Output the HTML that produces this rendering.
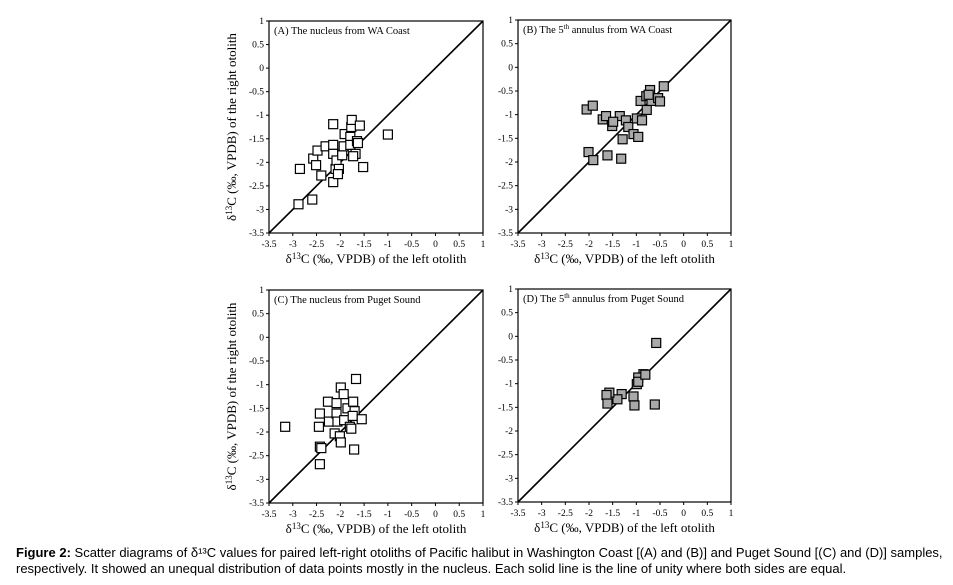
<!DOCTYPE html>
<html><head><meta charset="utf-8"><style>
body{margin:0;background:#fff;width:953px;height:585px;overflow:hidden;position:relative}
svg{position:absolute;left:0;top:0}
#cap{position:absolute;left:16px;top:545px;width:935px;font:13px "Liberation Sans",sans-serif;line-height:16px;color:#000}
</style></head><body>
<svg id="chart" width="953" height="540" font-family="Liberation Serif, serif"></svg>
<div id="cap"><b>Figure 2:</b> Scatter diagrams of δ¹³C values for paired left-right otoliths of Pacific halibut in Washington Coast [(A) and (B)] and Puget Sound [(C) and (D)] samples, respectively. It showed an unequal distribution of data points mostly in the nucleus. Each solid line is the line of unity where both sides are equal.</div>
<script>
const ticks=[-3.5,-3,-2.5,-2,-1.5,-1,-0.5,0,0.5,1];
const tickLabels=["-3.5","-3","-2.5","-2","-1.5","-1","-0.5","0","0.5","1"];
const aX=[-2.85,-2.88,-2.59,-2.57,-2.51,-2.48,-2.4,-2.31,-2.15,-2.15,-2.15,-2.15,-2.1,-2.08,-2.03,-2.05,-1.96,-1.93,-1.91,-1.79,-1.79,-1.77,-1.76,-1.68,-1.65,-1.59,-1.63,-1.52,-1.0,-1.73];
const aY=[-2.14,-2.89,-2.79,-1.92,-2.06,-1.75,-2.28,-1.66,-1.19,-1.63,-1.82,-2.42,-2.14,-1.96,-2.14,-2.25,-1.85,-1.66,-1.4,-1.46,-1.63,-1.25,-1.1,-1.82,-1.55,-1.22,-1.59,-2.1,-1.41,-1.87];
const bX=[-2.05,-1.92,-1.71,-1.64,-1.51,-1.35,-1.49,-1.29,-1.22,-1.17,-1.06,-0.99,-0.96,-0.88,-0.91,-0.78,-0.79,-0.71,-0.68,-0.54,-0.5,-0.42,-2.01,-1.91,-1.61,-1.32,-0.74];
const bY=[-0.89,-0.81,-1.1,-1.03,-1.24,-1.03,-1.15,-1.52,-1.12,-1.26,-1.41,-1.08,-1.47,-1.12,-0.71,-0.9,-0.61,-0.48,-0.71,-0.65,-0.72,-0.4,-1.79,-1.96,-1.86,-1.93,-0.58];
const cX=[-3.16,-2.43,-2.45,-2.43,-2.4,-2.43,-2.26,-2.24,-2.12,-2.08,-2.06,-1.99,-2.01,-1.99,-1.93,-1.92,-1.85,-1.8,-1.77,-1.73,-1.7,-1.74,-1.67,-1.71,-1.55,-2.08];
const cY=[-1.89,-1.61,-1.89,-2.31,-2.34,-2.68,-1.36,-1.78,-2.03,-1.61,-1.78,-1.06,-2.09,-2.22,-1.2,-1.75,-1.5,-1.89,-1.93,-1.36,-1.56,-1.66,-0.88,-2.37,-1.73,-1.39];
const dX=[-0.58,-0.61,-0.85,-0.96,-0.99,-0.96,-1.06,-1.04,-1.31,-1.4,-1.57,-1.63,-1.61,-0.81];
const dY=[-0.14,-1.44,-0.8,-0.87,-1.01,-0.96,-1.27,-1.46,-1.22,-1.33,-1.19,-1.24,-1.42,-0.81];
const NS="http://www.w3.org/2000/svg";
const svg=document.getElementById('chart');
function mk(t,a,p){const e=document.createElementNS(NS,t);for(const k in a)e.setAttribute(k,a[k]);(p||svg).appendChild(e);return e;}
const panels=[
 {id:'a',x0:269,x1:483,y0:21,y1:233,xs:aX,ys:aY,fill:'#fff',title:'(A) The nucleus from WA Coast',sup:false,ytitle:true},
 {id:'b',x0:518,x1:731,y0:20,y1:233,xs:bX,ys:bY,fill:'#a9a9a9',title:'(B) The 5',sup:true,rest:' annulus from WA Coast',ytitle:false},
 {id:'c',x0:269,x1:483,y0:290,y1:503,xs:cX,ys:cY,fill:'#fff',title:'(C) The nucleus from Puget Sound',sup:false,ytitle:true},
 {id:'d',x0:518,x1:731,y0:289,y1:502,xs:dX,ys:dY,fill:'#a9a9a9',title:'(D) The 5',sup:true,rest:' annulus from Puget Sound',ytitle:false}];
panels.forEach(p=>{
 const g=mk('g',{});
 
 
 const sx=v=>p.x0+(v+3.5)/4.5*(p.x1-p.x0);
 const sy=v=>p.y1-(v+3.5)/4.5*(p.y1-p.y0);
 const fr=mk('rect',{x:p.x0,y:p.y0,width:p.x1-p.x0,height:p.y1-p.y0,fill:'none',stroke:'#000','stroke-width':1.2},g);
 
 
 ticks.forEach((t,i)=>{
  mk('line',{x1:sx(t),x2:sx(t),y1:p.y1,y2:p.y1+3,stroke:'#000'},g);
  mk('line',{x1:p.x0-3,x2:p.x0,y1:sy(t),y2:sy(t),stroke:'#000'},g);
  const xl=mk('text',{x:sx(t),y:p.y1+14,'font-size':9.5,'text-anchor':'middle'},g);xl.textContent=tickLabels[i];
  
  
  const yl=mk('text',{x:p.x0-5,y:sy(t)+3,'font-size':9.5,'text-anchor':'end'},g);yl.textContent=tickLabels[i];
  
  
 });
 const ul=mk('line',{x1:sx(-3.5),y1:sy(-3.5),x2:sx(1),y2:sy(1),stroke:'#000','stroke-width':1.6},g);
 
 
 p.xs.forEach((v,i)=>{
  const r=mk('rect',{x:sx(v)-4.5,y:sy(p.ys[i])-4.5,width:9,height:9,fill:p.fill,stroke:'#000','stroke-width':1.2},g);
  
  
 });
 const tt=mk('text',{x:p.x0+5,y:p.y0+13,'font-size':10.5},g);
 
 
 if(p.sup){tt.appendChild(document.createTextNode(p.title));const s=mk('tspan',{'font-size':7,dy:-4},tt);s.textContent='th';const r=mk('tspan',{dy:4},tt);r.textContent=p.rest;}
 else tt.textContent=p.title;
 const xt=mk('text',{x:(p.x0+p.x1)/2,y:p.y1+30,'font-size':13,'text-anchor':'middle'},g);
 
 
 xt.appendChild(document.createTextNode('δ'));const s1=mk('tspan',{'font-size':9,dy:-4},xt);s1.textContent='13';const s2=mk('tspan',{dy:4},xt);s2.textContent='C (‰, VPDB) of the left otolith';
 if(p.ytitle){
  const cy=(p.y0+p.y1)/2;
  const yt=mk('text',{x:0,y:0,'font-size':13,'text-anchor':'middle',transform:`translate(${p.x0-33},${cy}) rotate(-90)`},g);
  
  
  yt.appendChild(document.createTextNode('δ'));const t1=mk('tspan',{'font-size':9,dy:-4},yt);t1.textContent='13';const t2=mk('tspan',{dy:4},yt);t2.textContent='C (‰, VPDB) of the right otolith';
 }
});
</script>
</body></html>
